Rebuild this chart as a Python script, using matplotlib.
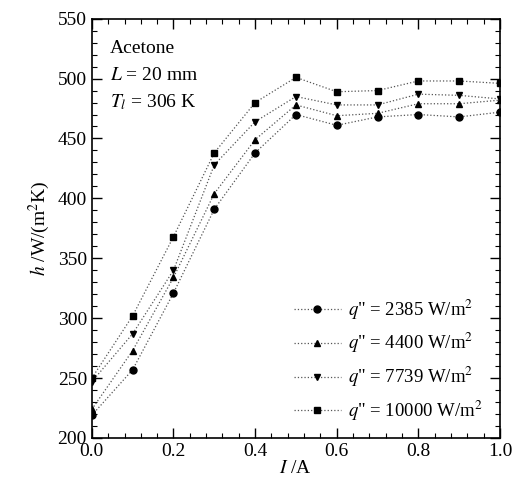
import matplotlib
matplotlib.use("Agg")
import matplotlib.pyplot as plt
from matplotlib.ticker import MultipleLocator

plt.rcParams['font.family'] = ['Liberation Serif', 'DejaVu Serif']
plt.rcParams['mathtext.fontset'] = 'stix'

current = [0.0, 0.1, 0.2, 0.3, 0.4, 0.5, 0.6, 0.7, 0.8, 0.9, 1.0]
h_2385 = [219, 257, 321, 391, 438, 470, 461, 468, 470, 468, 472]
h_4400 = [224, 273, 334, 404, 449, 478, 469, 471, 479, 479, 482]
h_7739 = [247, 287, 340, 428, 464, 485, 478, 478, 487, 486, 483]
h_10000 = [250, 302, 368, 438, 480, 501, 489, 490, 498, 498, 496]
labels = [r'$q$" = 2385 W/m$^2$', r'$q$" = 4400 W/m$^2$',
          r'$q$" = 7739 W/m$^2$', r'$q$" = 10000 W/m$^2$']

fig = plt.figure(figsize=(5.16, 4.98), dpi=100)
ax = fig.add_axes([0.178, 0.1205, 0.791, 0.842])

series = [h_2385, h_4400, h_7739, h_10000]
markers = ['o', '^', 'v', 's']
for ys, m, lab in zip(series, markers, labels):
    ax.plot(current, ys, linestyle=':', color='#555555', linewidth=0.9,
            marker=m, markersize=5, markerfacecolor='black',
            markeredgecolor='black', label=lab)

ax.set_xlim(0.0, 1.0)
ax.set_ylim(200, 550)
ax.xaxis.set_major_locator(MultipleLocator(0.2))
ax.xaxis.set_minor_locator(MultipleLocator(0.04))
ax.yaxis.set_major_locator(MultipleLocator(50))
ax.yaxis.set_minor_locator(MultipleLocator(10))
ax.xaxis.set_major_formatter(matplotlib.ticker.FormatStrFormatter('%.1f'))
ax.tick_params(which='both', direction='in', top=True, right=True)
ax.tick_params(which='major', length=7, width=1, labelsize=14)
ax.tick_params(which='minor', length=3.5, width=0.8)
for sp in ax.spines.values():
    sp.set_linewidth(1.2)

ax.set_xlabel(r'$I$ /A', fontsize=14, labelpad=0)
ax.set_ylabel(r'$h$ /W/(m$^2$K)', fontsize=14, labelpad=4)

ax.text(0.045, 0.93, 'Acetone', transform=ax.transAxes, fontsize=14, va='center')
ax.text(0.045, 0.865, r'$L$ = 20 mm', transform=ax.transAxes, fontsize=14, va='center')
ax.text(0.045, 0.80, r'$T_l$ = 306 K', transform=ax.transAxes, fontsize=14, va='center')

ax.legend(loc='lower right', bbox_to_anchor=(0.99, 0.005), frameon=False,
          fontsize=13.5, handlelength=2.5, handletextpad=0.4, labelspacing=0.5,
          borderaxespad=0.3)

fig.savefig('out.png', dpi=100)
